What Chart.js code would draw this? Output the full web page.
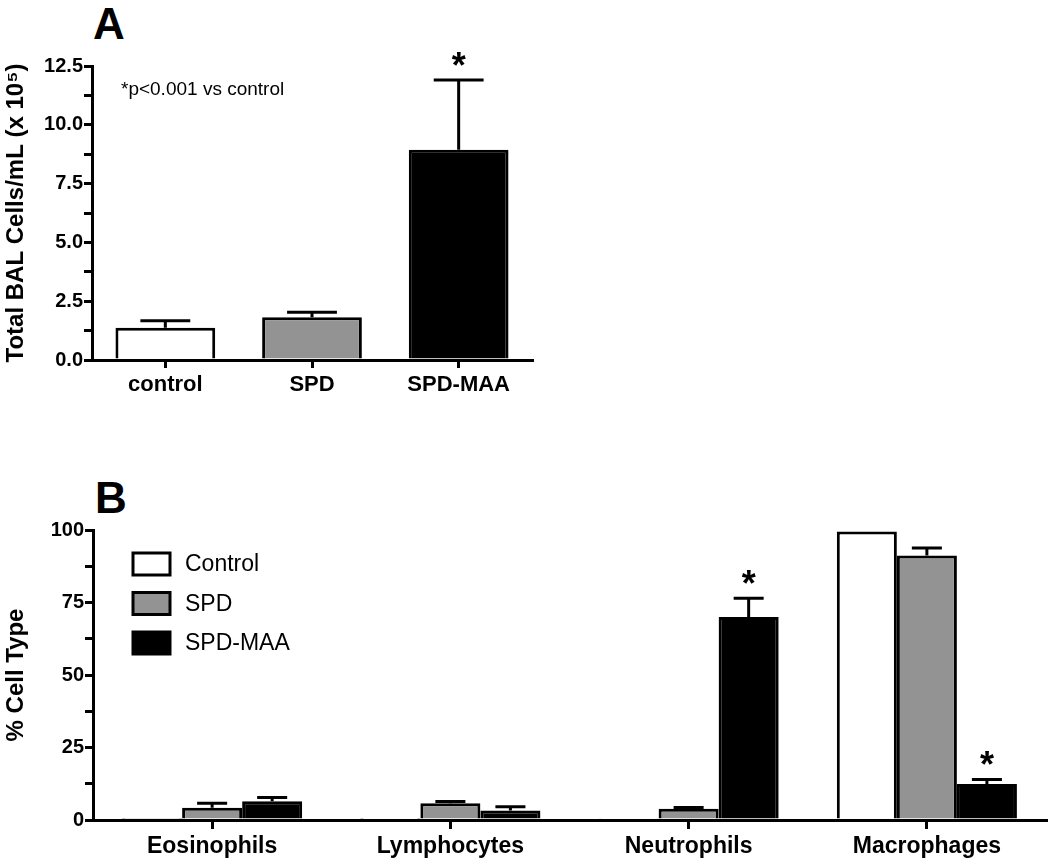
<!DOCTYPE html>
<html>
<head>
<meta charset="utf-8">
<script src="https://cdn.jsdelivr.net/npm/chart.js@4"></script>
<style>
  body { margin: 0; background: #fff; width: 1050px; height: 867px; position: relative; overflow: hidden; }
  .wrap { position: absolute; left: 0; }
  .panel { position: absolute; font-family: Arial, "Liberation Sans", sans-serif; font-weight: bold; font-size: 44px; color: #000; line-height: 1; }
</style>
</head>
<body>
<div class="panel" style="left:93px;top:2px;">A</div>
<div class="panel" style="left:95px;top:476px;">B</div>
<div class="wrap" style="top:0;width:560px;height:420px;"><canvas id="chartA"></canvas></div>
<div class="wrap" style="top:440px;width:1050px;height:427px;"><canvas id="chartB"></canvas></div>
<script>
// panel A: total BAL cells
const groupsA = ["control", "SPD", "SPD-MAA"];
const totalMean = [1.37, 1.82, 8.94];
const totalSem = [0.30, 0.21, 2.96];
const starA = [false, false, true];

// panel B: differential counts (%)
const cellTypes = ["Eosinophils", "Lymphocytes", "Neutrophils", "Macrophages"];
const controlPct = [0.3, 0.1, 0.4, 99.5];
const controlSem = [0, 0, 0, 0];
const spdPct = [4.2, 5.8, 3.9, 91.2];
const spdSem = [1.6, 0.6, 0.4, 2.6];
const maaPct = [6.5, 3.3, 70.0, 12.4];
const maaSem = [1.3, 1.3, 6.5, 1.6];
const starMaa = [false, false, true, true];

const WHITE = "#ffffff", GRAY = "#939393", BLACK = "#000000";

Chart.defaults.font.family = 'Arial, "Liberation Sans", sans-serif';
Chart.defaults.color = "#000";
Chart.defaults.animation = false;

// draws the upward SEM whiskers and the significance stars
const errorBars = {
    id: "errorBars",
    afterDatasetsDraw(chart, args, opts) {
        const ctx = chart.ctx;
        const y = chart.scales.y;
        chart.data.datasets.forEach((ds, di) => {
            const meta = chart.getDatasetMeta(di);
            meta.data.forEach((bar, i) => {
                const sem = ds.sem ? ds.sem[i] : 0;
                const top = y.getPixelForValue(ds.data[i] + sem);
                const capW = bar.width * 0.5;
                if (sem > 0) {
                    ctx.save();
                    ctx.strokeStyle = "#000";
                    ctx.lineWidth = 3;
                    ctx.beginPath();
                    ctx.moveTo(bar.x, bar.y);
                    ctx.lineTo(bar.x, top);
                    ctx.moveTo(bar.x - capW / 2, top);
                    ctx.lineTo(bar.x + capW / 2, top);
                    ctx.stroke();
                    ctx.restore();
                }
                if (ds.stars && ds.stars[i]) {
                    ctx.save();
                    ctx.fillStyle = "#000";
                    ctx.font = "bold 36px Arial, 'Liberation Sans', sans-serif";
                    ctx.textAlign = "center";
                    ctx.textBaseline = "middle";
                    ctx.fillText("*", bar.x, top - 12);
                    ctx.restore();
                }
            });
        });
    }
};

// small text note inside panel A
const noteA = {
    id: "noteA",
    afterDraw(chart) {
        const ctx = chart.ctx;
        ctx.save();
        ctx.fillStyle = "#000";
        ctx.font = "19px Arial, 'Liberation Sans', sans-serif";
        ctx.textBaseline = "middle";
        ctx.fillText("*p<0.001 vs control", 121, 90);
        ctx.restore();
    }
};

// boxed legend like the original figure
const legendB = {
    id: "legendB",
    afterDraw(chart) {
        const ctx = chart.ctx;
        chart.data.datasets.forEach((ds, i) => {
            const yc = 124 + i * 39.5;
            ctx.save();
            ctx.fillStyle = ds.backgroundColor;
            ctx.strokeStyle = "#000";
            ctx.lineWidth = 3;
            ctx.fillRect(133, yc - 11, 37, 22);
            ctx.strokeRect(133, yc - 11, 37, 22);
            ctx.fillStyle = "#000";
            ctx.font = "23px Arial, 'Liberation Sans', sans-serif";
            ctx.textBaseline = "middle";
            ctx.fillText(ds.label, 185, yc + 1);
            ctx.restore();
        });
    }
};

new Chart(document.getElementById("chartA"), {
    type: "bar",
    data: {
        labels: groupsA,
        datasets: [{
            data: totalMean,
            sem: totalSem,
            stars: starA,
            backgroundColor: [WHITE, GRAY, BLACK],
            borderColor: BLACK,
            borderWidth: 3,
            categoryPercentage: 0.68,
            barPercentage: 1.0,
        }],
    },
    options: {
        responsive: true,
        maintainAspectRatio: false,
        layout: { padding: { top: 66, right: 28, left: 0, bottom: 0 } },
        plugins: { legend: { display: false }, tooltip: { enabled: false } },
        scales: {
            x: {
                grid: { display: true, drawOnChartArea: false, offset: false, color: "#000", lineWidth: 3, tickLength: 8 },
                border: { color: "#000", width: 3 },
                ticks: { font: { size: 22, weight: "bold" }, padding: 4 },
                afterFit: (s) => { s.height = 60; },
            },
            y: {
                min: 0,
                max: 12.5,
                grid: { display: true, drawOnChartArea: false, color: "#000", lineWidth: 3, tickLength: 8 },
                border: { color: "#000", width: 3 },
                ticks: {
                    stepSize: 1.25,
                    font: { size: 20, weight: "bold" },
                    padding: 1,
                    callback: (v, i) => (i % 2 === 0 ? v.toFixed(1) : ""),
                },
                title: { display: true, text: "Total BAL Cells/mL (x 10\u2075)", font: { size: 24, weight: "bold" }, padding: { top: 2, bottom: 0 } },
                afterFit: (s) => { s.width = 92; },
            },
        },
    },
    plugins: [errorBars, noteA],
});

new Chart(document.getElementById("chartB"), {
    type: "bar",
    data: {
        labels: cellTypes,
        datasets: [
            { label: "Control", data: controlPct, sem: controlSem, backgroundColor: WHITE },
            { label: "SPD", data: spdPct, sem: spdSem, backgroundColor: GRAY },
            { label: "SPD-MAA", data: maaPct, sem: maaSem, stars: starMaa, backgroundColor: BLACK },
        ].map((d) => Object.assign(d, { borderColor: BLACK, borderWidth: 3, categoryPercentage: 0.756, barPercentage: 1.0 })),
    },
    options: {
        responsive: true,
        maintainAspectRatio: false,
        layout: { padding: { top: 90, right: 4, left: 0, bottom: 0 } },
        plugins: { legend: { display: false }, tooltip: { enabled: false } },
        scales: {
            x: {
                grid: { display: true, drawOnChartArea: false, offset: false, color: "#000", lineWidth: 3, tickLength: 9 },
                border: { color: "#000", width: 3 },
                ticks: { font: { size: 23, weight: "bold" }, padding: 4 },
                afterFit: (s) => { s.height = 47; },
            },
            y: {
                min: 0,
                max: 100,
                grid: { display: true, drawOnChartArea: false, color: "#000", lineWidth: 3, tickLength: 8 },
                border: { color: "#000", width: 3 },
                ticks: {
                    stepSize: 12.5,
                    font: { size: 20, weight: "bold" },
                    padding: 1,
                    callback: (v, i) => (i % 2 === 0 ? String(v) : ""),
                },
                title: { display: true, text: "% Cell Type", font: { size: 24, weight: "bold" }, padding: { top: 2, bottom: 0 } },
                afterFit: (s) => { s.width = 93; },
            },
        },
    },
    plugins: [errorBars, legendB],
});
</script>
</body>
</html>
